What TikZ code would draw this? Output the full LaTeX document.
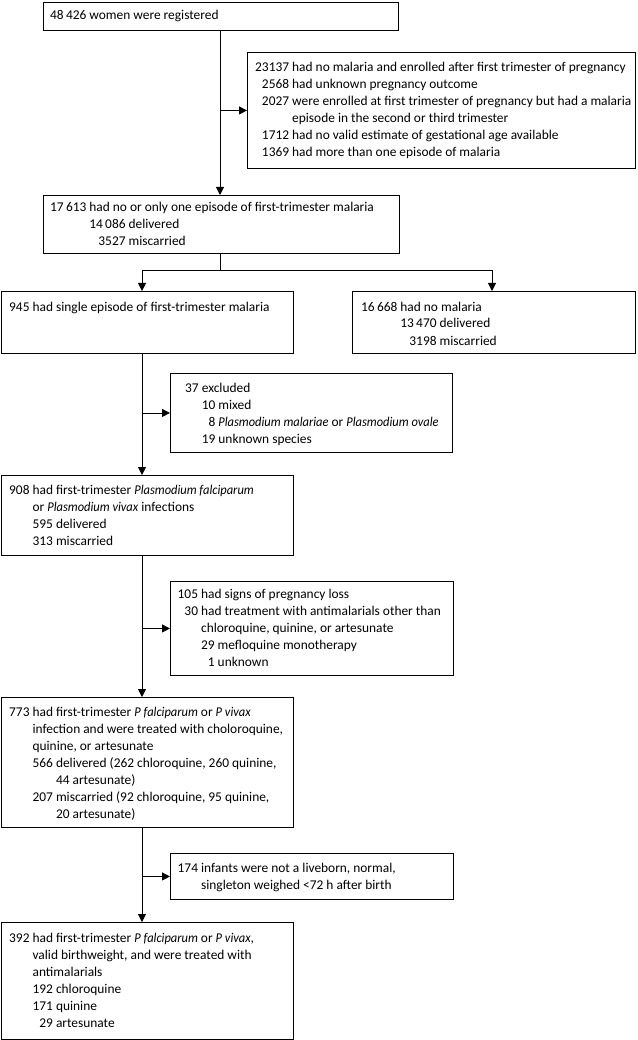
\documentclass[tikz,border=0pt]{standalone}
\usepackage{fontspec}
\setmainfont{Carlito}[ItalicFeatures={FakeStretch=0.93}]
\usetikzlibrary{arrows.meta}
\newcommand{\lst}[1]{\begin{tabular}[t]{@{}r@{\ }l@{}}#1\end{tabular}}
\begin{document}
\begin{tikzpicture}[x=1pt,y=-1pt,
  box/.style={draw, line width=0.9pt, inner sep=0pt, anchor=north west},
  txt/.style={inner sep=0pt, anchor=base west, font=\fontsize{13.4}{17}\selectfont},
  arr/.style={line width=0.9pt, -{Triangle[length=8pt,width=8pt]}},
  ln/.style={line width=0.9pt}]
\useasboundingbox (0,0) rectangle (637,1040);
% boxes
\node[box, minimum width=355pt, minimum height=28pt] (b1) at (43,2) {};
\node[box, minimum width=388pt, minimum height=116pt] (b2) at (247,52) {};
\node[box, minimum width=356pt, minimum height=58pt] (b3) at (43,195) {};
\node[box, minimum width=292pt, minimum height=62pt] (b4) at (1,291) {};
\node[box, minimum width=283pt, minimum height=62pt] (b5) at (352,291) {};
\node[box, minimum width=282pt, minimum height=79pt] (b6) at (170,373) {};
\node[box, minimum width=292pt, minimum height=80pt] (b7) at (1,475) {};
\node[box, minimum width=283pt, minimum height=94pt] (b8) at (170,581) {};
\node[box, minimum width=292pt, minimum height=130pt] (b9) at (1,697) {};
\node[box, minimum width=283pt, minimum height=46pt] (b10) at (170,853) {};
\node[box, minimum width=292pt, minimum height=117pt] (b11) at (1,922) {};
% texts
\node[txt] (t1) at (50,20) {48\,426 women were registered};
\node[txt] (t2) at (255,72) {\lst{%
23137 & had no malaria and enrolled after first trimester of pregnancy\\
2568 & had unknown pregnancy outcome\\
2027 & were enrolled at first trimester of pregnancy but had a malaria\\
 & episode in the second or third trimester\\
1712 & had no valid estimate of gestational age available\\
1369 & had more than one episode of malaria}};
\node[txt] (t3) at (50,212) {\lst{%
17\,613 & had no or only one episode of first-trimester malaria\\
 & \lst{14\,086 & delivered\\ 3527 & miscarried}}};
\node[txt] (t4) at (9,311) {945 had single episode of first-trimester malaria};
\node[txt] (t5) at (361,311) {\lst{%
16\,668 & had no malaria\\
 & \lst{13\,470 & delivered\\ 3198 & miscarried}}};
\node[txt] (t6) at (185,392) {\lst{%
37 & excluded\\
 & \lst{10 & mixed\\ 8 & \textit{Plasmodium malariae} or \textit{Plasmodium ovale}\\ 19 & unknown species}}};
\node[txt] (t7) at (9,494) {\lst{%
908 & had first-trimester \textit{Plasmodium falciparum}\\
 & or \textit{Plasmodium vivax} infections\\
 & \lst{595 & delivered\\ 313 & miscarried}}};
\node[txt] (t8) at (177.5,598) {\lst{%
105 & had signs of pregnancy loss\\
30 & had treatment with antimalarials other than\\
 & chloroquine, quinine, or artesunate\\
 & \lst{29 & mefloquine monotherapy\\ 1 & unknown}}};
\node[txt] (t9) at (9,716.5) {\lst{%
773 & had first-trimester \textit{P falciparum} or \textit{P vivax}\\
 & infection and were treated with choloroquine,\\
 & quinine, or artesunate\\
 & \lst{566 & delivered (262 chloroquine, 260 quinine,\\
        & 44 artesunate)\\
        207 & miscarried (92 chloroquine, 95 quinine,\\
        & 20 artesunate)}}};
\node[txt] (t10) at (177.5,872) {\lst{%
174 & infants were not a liveborn, normal,\\
 & singleton weighed <72 h after birth}};
\node[txt] (t11) at (9,942) {\lst{%
392 & had first-trimester \textit{P falciparum} or \textit{P vivax},\\
 & valid birthweight, and were treated with\\
 & antimalarials\\
 & \lst{192 & chloroquine\\ 171 & quinine\\ 29 & artesunate}}};
% connector columns
\coordinate (c1) at (220,0);
\coordinate (c2) at (142,0);
\coordinate (c3) at (492,0);
\coordinate (sp) at (0,270);
\draw[arr] (c1 |- b1.south) -- (c1 |- b3.north);
\draw[arr] (c1 |- b2.west) -- (b2.west);
\draw[ln] (c1 |- b3.south) -- (c1 |- sp);
\draw[ln] (c2 |- sp) -- (c3 |- sp);
\draw[arr] (c2 |- sp) -- (c2 |- b4.north);
\draw[arr] (c3 |- sp) -- (c3 |- b5.north);
\draw[arr] (c2 |- b4.south) -- (c2 |- b7.north);
\draw[arr] (c2 |- b6.west) -- (b6.west);
\draw[arr] (c2 |- b7.south) -- (c2 |- b9.north);
\draw[arr] (c2 |- b8.west) -- (b8.west);
\draw[arr] (c2 |- b9.south) -- (c2 |- b11.north);
\draw[arr] (c2 |- b10.west) -- (b10.west);
\end{tikzpicture}
\end{document}
